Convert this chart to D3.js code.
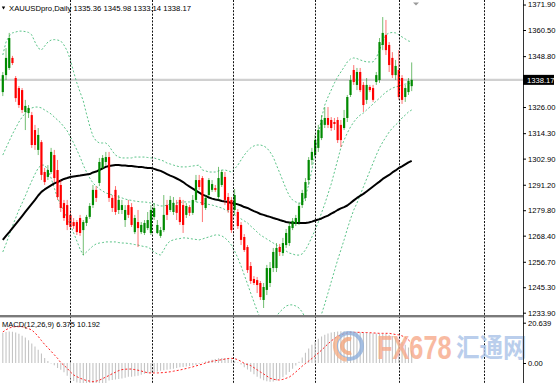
<!DOCTYPE html>
<html><head><meta charset="utf-8">
<script src="https://cdn.jsdelivr.net/npm/d3@7"></script>
<style>html,body{margin:0;padding:0;background:#fff;}svg{display:block;}</style>
</head><body>
<svg id="c" width="557" height="383"></svg>
<script>
const symbol = "XAUUSDpro,Daily";
const lastOHLC = [1335.36, 1345.98, 1333.14, 1338.17];
const macdName = "MACD(12,26,9)";
const macdLast = ["6.375", "10.192"];

const open = [1332.7,1340.3,1343.5,1348.0,1339.0,1334.5,1333.6,1323.8,1323.3,1322.4,
1315.7,1306.8,1310.3,1296.9,1294.7,1296.9,1304.5,1297.8,1291.1,1283.0,
1282.1,1277.7,1274.5,1274.5,1276.3,1270.9,1274.1,1276.8,1282.1,1288.9,
1292.0,1298.7,1301.4,1303.6,1285.3,1288.9,1279.9,1279.9,1275.4,1282.1,
1281.2,1270.0,1274.5,1270.0,1269.6,1271.8,1269.6,1276.8,1269.6,1268.3,
1270.9,1282.1,1279.9,1279.0,1282.1,1284.4,1282.1,1277.7,1281.2,1278.6,
1284.4,1293.3,1294.2,1280.8,1286.6,1288.9,1289.7,1285.7,1291.1,1294.7,
1285.7,1284.4,1279.9,1279.0,1273.2,1267.8,1263.3,1254.8,1249.0,1248.5,
1247.2,1239.6,1244.1,1247.2,1253.9,1253.9,1263.3,1260.6,1264.2,1265.1,
1271.8,1273.6,1274.5,1282.1,1285.3,1293.3,1302.3,1304.5,1307.7,1312.1,
1318.0,1321.1,1320.2,1319.3,1320.2,1318.0,1316.6,1321.1,1331.4,1342.6,
1335.9,1341.7,1335.9,1329.2,1335.0,1334.5,1337.2,1338.1,1353.8,1358.3,
1353.8,1348.0,1340.3,1342.6,1339.0,1330.5,1332.7,1335.36];
const high = [1341.7,1352.4,1359.2,1348.9,1339.9,1335.4,1334.5,1329.2,1326.9,1323.8,
1318.0,1316.6,1311.2,1298.7,1300.0,1307.7,1306.8,1302.3,1293.3,1284.4,
1284.4,1279.9,1276.3,1275.4,1277.7,1275.4,1277.7,1283.0,1291.1,1290.6,
1303.2,1304.5,1305.9,1305.9,1286.6,1290.6,1286.6,1284.4,1282.1,1284.4,
1283.0,1277.7,1279.9,1274.5,1275.4,1279.0,1282.1,1283.0,1275.4,1272.3,
1286.6,1284.4,1286.2,1285.7,1284.4,1285.7,1284.4,1283.0,1282.1,1286.6,
1295.6,1295.6,1295.1,1286.6,1294.2,1293.3,1291.1,1299.2,1297.8,1296.9,
1287.5,1285.7,1289.3,1280.3,1274.5,1269.1,1264.2,1256.6,1250.3,1249.9,
1248.1,1247.2,1255.3,1256.6,1262.9,1265.1,1264.7,1267.4,1271.4,1274.5,
1276.3,1277.7,1283.0,1288.9,1294.2,1303.6,1307.7,1313.5,1318.0,1322.4,
1326.0,1326.0,1321.5,1321.1,1321.5,1320.2,1324.7,1331.4,1340.3,1344.8,
1343.5,1343.5,1337.2,1339.0,1335.9,1335.9,1341.7,1356.9,1366.3,1365.0,
1355.1,1350.6,1347.1,1351.5,1340.3,1335.9,1339.0,1345.98];
const low = [1330.9,1338.1,1342.6,1344.8,1328.3,1325.6,1323.3,1315.7,1321.1,1307.7,
1306.8,1304.5,1293.3,1291.1,1293.3,1296.0,1292.4,1284.4,1279.0,1275.0,
1270.9,1270.9,1271.4,1268.7,1268.3,1259.7,1272.7,1275.9,1280.8,1283.5,
1290.6,1297.8,1299.6,1283.5,1279.0,1277.7,1278.1,1278.1,1272.3,1276.3,
1272.3,1269.1,1263.3,1269.1,1268.7,1270.9,1268.7,1275.4,1269.1,1267.4,
1270.0,1275.4,1279.0,1277.7,1275.4,1273.2,1269.6,1276.3,1277.2,1277.7,
1283.5,1288.9,1274.5,1279.9,1285.7,1288.0,1288.0,1284.4,1290.2,1282.1,
1278.6,1269.6,1277.7,1271.4,1264.2,1261.1,1251.7,1246.8,1246.3,1242.7,
1239.6,1236.0,1241.8,1245.4,1252.1,1252.1,1259.3,1259.3,1262.9,1263.8,
1270.9,1272.7,1273.2,1280.8,1283.9,1291.1,1300.0,1303.2,1305.9,1311.2,
1316.6,1316.6,1315.3,1315.7,1309.9,1308.1,1315.7,1319.3,1330.5,1335.9,
1333.6,1332.7,1323.8,1327.4,1332.7,1328.3,1335.9,1336.8,1351.5,1349.3,
1341.7,1339.0,1338.1,1329.2,1327.4,1328.3,1331.4,1333.14];
const close = [1340.3,1348.0,1356.9,1345.7,1330.0,1326.9,1324.7,1326.5,1325.6,1309.0,
1309.0,1313.5,1295.6,1292.4,1297.8,1305.9,1294.2,1285.7,1280.8,1276.3,
1273.2,1272.3,1272.7,1270.0,1269.6,1274.5,1276.8,1281.7,1288.9,1285.3,
1301.4,1303.2,1303.6,1285.3,1280.8,1279.0,1284.4,1282.1,1279.9,1277.7,
1273.2,1276.3,1271.8,1273.2,1274.1,1275.4,1279.9,1280.8,1273.2,1270.9,
1277.7,1277.7,1284.4,1283.0,1278.6,1274.5,1273.2,1281.7,1278.6,1284.4,
1293.3,1290.2,1282.1,1285.3,1293.3,1291.5,1288.9,1294.2,1296.9,1284.4,
1279.9,1270.9,1286.6,1272.7,1266.5,1262.0,1253.0,1248.1,1247.2,1246.3,
1240.9,1245.4,1253.9,1253.9,1261.1,1262.9,1261.1,1265.1,1269.6,1272.7,
1275.0,1276.3,1281.7,1287.5,1292.4,1302.3,1305.9,1311.2,1315.7,1320.2,
1321.1,1318.0,1316.6,1318.4,1311.2,1311.2,1321.1,1330.5,1338.1,1337.2,
1341.7,1333.6,1326.9,1335.9,1333.6,1329.2,1340.3,1355.1,1359.2,1351.5,
1344.8,1340.3,1344.4,1330.5,1329.2,1334.5,1337.7,1338.17];

const ma = [1266.5,1268.3,1270.0,1271.8,1273.6,1275.4,1277.2,1279.0,1280.8,1282.6,
1284.4,1286.4,1288.0,1289.1,1290.0,1290.9,1291.8,1292.4,1293.1,1293.8,
1294.2,1294.7,1294.9,1295.1,1295.3,1295.6,1295.8,1296.0,1296.7,1297.1,
1297.8,1298.5,1299.2,1299.6,1299.8,1300.0,1300.0,1299.8,1299.8,1299.6,
1299.6,1299.4,1299.2,1299.2,1298.9,1298.7,1298.7,1298.3,1297.8,1297.4,
1296.7,1296.0,1295.3,1294.7,1294.0,1293.3,1292.4,1291.3,1290.4,1289.5,
1288.6,1287.7,1286.8,1286.2,1285.5,1285.0,1284.6,1284.4,1283.9,1283.7,
1283.5,1283.0,1282.8,1282.4,1281.9,1281.2,1280.8,1280.1,1279.4,1278.8,
1278.1,1277.7,1277.2,1276.8,1276.3,1275.9,1275.4,1275.0,1274.5,1274.3,
1274.1,1274.1,1274.1,1274.1,1274.1,1274.3,1274.7,1275.2,1275.6,1276.1,
1276.8,1277.4,1278.3,1279.0,1279.9,1280.6,1281.2,1281.9,1283.0,1284.2,
1285.3,1286.2,1287.1,1288.2,1289.3,1290.4,1291.5,1292.6,1293.8,1294.7,
1295.6,1296.7,1297.6,1298.7,1299.4,1300.3,1301.2,1301.9];

const bbUpper = [1349.3,1355.1,1357.8,1359.2,1359.6,1360.0,1360.0,1359.8,1359.4,1358.3,
1355.1,1352.4,1351.5,1353.3,1355.1,1356.0,1356.2,1356.0,1355.6,1353.8,
1351.1,1347.1,1341.7,1336.8,1332.7,1328.7,1322.9,1317.5,1313.0,1310.8,
1309.9,1309.9,1309.9,1308.6,1306.3,1304.5,1303.6,1303.2,1303.2,1303.2,
1303.2,1303.6,1303.6,1303.6,1303.6,1303.4,1303.2,1303.2,1302.7,1302.3,
1301.8,1300.9,1300.5,1300.0,1299.6,1299.2,1299.2,1299.2,1299.4,1299.6,
1299.8,1300.0,1297.8,1297.4,1296.9,1296.9,1296.9,1297.4,1297.8,1297.8,
1297.4,1296.9,1298.3,1300.0,1302.3,1304.5,1306.3,1307.7,1308.6,1309.0,
1309.0,1308.6,1307.7,1305.9,1303.6,1300.0,1296.5,1292.9,1289.3,1286.2,
1284.4,1283.5,1283.0,1283.0,1286.2,1291.1,1297.8,1305.9,1313.5,1321.1,
1326.9,1330.5,1333.6,1336.8,1339.5,1341.7,1343.9,1346.2,1347.5,1348.0,
1347.7,1347.1,1346.6,1346.2,1346.2,1346.2,1348.0,1351.5,1355.1,1358.3,
1359.2,1359.4,1359.2,1358.3,1357.4,1356.5,1355.6,1355.1];
const bbMiddle = [1304.5,1307.7,1310.8,1313.9,1316.6,1319.3,1321.5,1323.3,1324.7,1325.6,
1326.0,1326.0,1325.6,1324.7,1323.8,1322.9,1321.5,1320.2,1318.9,1317.1,
1315.3,1312.6,1309.9,1306.8,1303.6,1300.0,1296.9,1294.2,1292.0,1290.6,
1289.3,1288.4,1287.5,1287.1,1286.6,1286.2,1285.7,1285.3,1284.8,1284.4,
1284.2,1283.9,1283.7,1283.5,1283.5,1283.3,1283.0,1282.6,1282.1,1281.7,
1281.7,1282.1,1282.6,1283.0,1283.0,1283.3,1283.5,1283.5,1283.5,1283.5,
1283.5,1283.3,1283.0,1282.6,1282.4,1282.1,1281.7,1281.2,1280.8,1280.1,
1279.4,1278.6,1277.7,1276.8,1275.9,1275.0,1274.1,1272.7,1271.4,1270.0,
1268.7,1267.8,1266.9,1266.0,1265.1,1264.2,1263.3,1262.4,1261.5,1260.6,
1260.2,1259.7,1259.7,1260.2,1262.0,1264.7,1267.8,1270.9,1274.5,1278.6,
1282.6,1287.1,1291.5,1296.9,1302.3,1307.7,1311.2,1314.4,1317.1,1319.3,
1321.1,1322.4,1323.3,1324.7,1326.0,1327.4,1328.7,1330.0,1331.4,1332.7,
1333.6,1334.5,1335.0,1335.4,1335.9,1336.3,1336.5,1336.8];
const bbLower = [1261.1,1264.7,1268.7,1272.7,1276.3,1279.9,1283.0,1286.2,1289.7,1292.9,
1296.0,1298.7,1300.0,1300.0,1297.8,1294.2,1289.7,1285.3,1282.1,1279.0,
1276.3,1273.2,1269.6,1266.0,1262.4,1259.7,1261.1,1262.4,1263.8,1264.7,
1265.1,1265.3,1265.6,1265.6,1265.6,1265.6,1265.3,1265.1,1265.1,1264.9,
1264.7,1264.4,1264.2,1263.8,1263.5,1263.3,1262.4,1261.1,1260.2,1259.7,
1262.0,1264.7,1266.0,1266.5,1266.9,1267.1,1267.4,1267.4,1267.1,1266.9,
1266.7,1266.5,1266.9,1267.4,1267.8,1268.3,1268.7,1268.7,1268.3,1267.4,
1266.0,1264.2,1261.5,1258.4,1254.8,1250.8,1246.8,1242.7,1238.7,1234.7,
1231.5,1229.7,1228.8,1229.3,1230.6,1232.4,1234.2,1235.6,1236.9,1237.4,
1237.4,1236.9,1236.0,1234.2,1231.5,1228.4,1227.1,1227.5,1229.7,1233.3,
1237.8,1242.7,1247.7,1252.6,1257.5,1262.0,1266.5,1271.4,1275.9,1279.9,
1283.0,1286.6,1290.2,1293.8,1297.4,1300.9,1304.5,1307.7,1310.3,1312.6,
1314.8,1316.6,1318.0,1319.3,1321.1,1322.4,1323.8,1324.7];

const macdMain = [15.4,15.9,16.1,16.0,15.6,15.0,14.0,13.0,11.7,10.0,
8.4,6.8,4.8,2.6,1.0,-0.3,-1.1,-2.5,-3.4,-4.8,
-6.5,-8.0,-9.2,-10.0,-10.6,-11.2,-11.6,-11.9,-11.8,-11.5,
-11.0,-10.6,-10.2,-9.0,-8.7,-8.5,-8.2,-8.0,-7.5,-7.0,
-7.0,-6.8,-6.5,-6.0,-5.5,-5.3,-5.0,-4.8,-4.4,-4.0,
-3.7,-3.5,-3.2,-3.0,-2.5,-2.2,-2.0,-1.8,-1.6,-1.3,
-1.0,-0.5,0.3,0.8,1.2,1.6,2.0,2.4,2.6,2.6,
2.3,1.8,1.0,0.2,-0.8,-2.2,-3.3,-4.5,-5.8,-7.0,
-8.0,-8.8,-9.4,-9.6,-9.5,-9.0,-8.2,-7.3,-6.0,-4.6,
-3.0,-1.3,0.6,2.8,5.2,7.4,9.3,11.0,12.4,13.6,
14.5,15.1,15.6,15.9,16.1,16.3,16.3,16.3,16.2,16.1,
16.0,15.8,15.6,15.5,15.3,15.2,15.1,15.0,15.0,14.8,
14.4,13.8,13.0,12.0,10.8,9.4,7.9,6.375];
const macdSignal = [15.9,17.0,17.9,18.5,18.6,18.6,18.6,18.2,17.6,16.9,
15.4,13.6,11.5,9.5,7.8,6.0,4.2,2.4,0.2,-1.2,
-2.7,-4.6,-6.1,-7.0,-7.8,-8.4,-9.0,-9.3,-9.6,-9.3,
-8.8,-8.0,-7.2,-6.4,-5.5,-4.7,-3.9,-3.4,-3.2,-3.1,
-3.1,-3.4,-3.7,-4.1,-4.6,-5.0,-5.1,-5.1,-5.1,-5.0,
-4.9,-4.7,-4.5,-4.2,-3.9,-3.6,-3.2,-2.8,-2.4,-2.0,
-1.5,-1.0,-0.6,0.0,0.5,0.9,1.2,1.4,1.7,2.0,
2.3,2.4,2.2,1.7,0.8,-0.2,-0.8,-1.3,-2.4,-3.5,
-4.6,-5.6,-6.7,-7.8,-8.3,-8.6,-8.7,-8.4,-7.8,-7.2,
-6.0,-4.6,-3.1,-1.6,-0.3,1.0,2.3,3.7,5.1,6.6,
8.2,9.8,11.3,12.5,13.6,14.4,15.0,15.4,15.7,15.7,
15.7,15.7,15.6,15.6,15.5,15.4,15.3,15.2,15.2,15.2,
15.2,14.9,14.6,14.4,13.9,13.0,11.8,10.192];

const priceTicks = [1371.90,1360.50,1348.80,1326.00,1314.30,1302.90,1291.20,1279.80,1268.40,1256.70,1245.30,1233.90];
const macdTicks = [20.639, 0, -11.936];
const gridBars = [20.88, 46.26, 71.52, 96.84, 123.09, 149.34];
const watermarkLatin = "FX678";
const watermarkCJK = "汇通网";

// ---------- drawing ----------
const W = 557, H = 383, axisX = 523;
const font = "'Liberation Sans', Arial, sans-serif";
const svg = d3.select("#c");
const n = close.length;
const idx = d3.range(n);
const x = d3.scaleLinear().domain([0, n - 1]).range([2.8, 411.7]);
const y = d3.scaleLinear().domain([1233.9, 1360.5]).range([312.7, 30]);
const ym = d3.scaleLinear().domain([-11.936, 20.639]).range([386.3, 322.7]);

const defs = svg.append("defs");
defs.append("clipPath").attr("id", "cm").append("rect").attr("x", 0).attr("y", 0).attr("width", axisX).attr("height", 315);
defs.append("clipPath").attr("id", "cs").append("rect").attr("x", 0).attr("y", 317.5).attr("width", axisX).attr("height", 70);

svg.append("rect").attr("width", W).attr("height", H).attr("fill", "#fff");

// bid line
const main = svg.append("g").attr("clip-path", "url(#cm)");
main.append("line").attr("x1", 0).attr("x2", axisX).attr("y1", y(lastOHLC[3])).attr("y2", y(lastOHLC[3]))
  .attr("stroke", "#d0d0d0").attr("stroke-width", 2.2);

// vertical grid
svg.append("g").selectAll("line").data(gridBars).join("line")
  .attr("x1", d => Math.round(x(d)) + 0.5).attr("x2", d => Math.round(x(d)) + 0.5)
  .attr("y1", 0).attr("y2", H)
  .attr("stroke", "#111").attr("stroke-width", 1).attr("stroke-dasharray", "2,1.4");

// bollinger bands
const band = arr => d3.line().x((d, i) => x(i)).y(d => y(d))(arr);
[bbUpper, bbMiddle, bbLower].forEach(arr => {
  main.append("path").attr("d", band(arr)).attr("fill", "none")
    .attr("stroke", "#5cc489").attr("stroke-width", 1).attr("stroke-dasharray", "2,2");
});

// moving average
main.append("path").attr("d", band(ma)).attr("fill", "none")
  .attr("stroke", "#000").attr("stroke-width", 2).attr("stroke-linejoin", "round");

// candles
const bull = "#008a00", bear = "#ff0000";
const col = i => close[i] >= open[i] ? bull : bear;
main.append("g").selectAll("line").data(idx).join("line")
  .attr("x1", i => x(i)).attr("x2", i => x(i))
  .attr("y1", i => y(high[i])).attr("y2", i => y(low[i]))
  .attr("stroke", col).attr("stroke-width", 1).attr("opacity", 0.55);
main.append("g").selectAll("rect").data(idx).join("rect")
  .attr("x", i => x(i) - 1.1).attr("width", 2.2)
  .attr("y", i => Math.min(y(open[i]), y(close[i])))
  .attr("height", i => Math.max(1, Math.abs(y(open[i]) - y(close[i]))))
  .attr("fill", col);

// separator
svg.append("rect").attr("x", 0).attr("y", 315).attr("width", axisX).attr("height", 2.4).attr("fill", "#7a7a7a");

// MACD panel
const sub = svg.append("g").attr("clip-path", "url(#cs)");
sub.append("g").selectAll("line").data(idx).join("line")
  .attr("x1", i => x(i)).attr("x2", i => x(i))
  .attr("y1", ym(0)).attr("y2", i => ym(macdMain[i]))
  .attr("stroke", "#c4c4c4").attr("stroke-width", 1.1);
sub.append("path").attr("d", d3.line().x((d, i) => x(i)).y(d => ym(d))(macdSignal))
  .attr("fill", "none").attr("stroke", "#ff2020").attr("stroke-width", 1).attr("stroke-dasharray", "2,2");

// watermark
const wm = svg.append("g").attr("opacity", 0.8);
wm.append("circle").attr("cx", 349).attr("cy", 346).attr("r", 13).attr("fill", "none")
  .attr("stroke", "#8fb0dc").attr("stroke-width", 4);
wm.append("path").attr("d", d3.arc()({innerRadius: 5, outerRadius: 9, startAngle: Math.PI * 0.9, endAngle: Math.PI * 2.1}))
  .attr("transform", "translate(349,346)").attr("fill", "#f3a67c");
wm.append("path").attr("d", d3.arc()({innerRadius: 12, outerRadius: 16, startAngle: Math.PI * 1.05, endAngle: Math.PI * 1.75}))
  .attr("transform", "translate(349,346)").attr("fill", "#f6b089");
wm.append("text").attr("transform", "translate(377,358.5) scale(0.745,1)").text(watermarkLatin)
  .attr("font-family", font).attr("font-weight", "bold").attr("font-size", 34)
  .attr("fill", "#f7a98a");
wm.append("text").attr("transform", "translate(456,357) scale(0.96,1.08)").text(watermarkCJK)
  .attr("font-family", "'Noto Sans CJK SC', sans-serif").attr("font-weight", "bold").attr("font-size", 24.5)
  .attr("fill", "#a9c3e8");

// right axis
svg.append("line").attr("x1", axisX + 0.5).attr("x2", axisX + 0.5).attr("y1", 0).attr("y2", H)
  .attr("stroke", "#333").attr("stroke-width", 1);
const ax = svg.append("g").attr("transform", `translate(${axisX},0)`)
  .call(d3.axisRight(y).tickValues(priceTicks).tickSize(3).tickPadding(2).tickFormat(d3.format(".2f")));
ax.select(".domain").remove();
ax.selectAll("text").attr("font-family", font).attr("font-size", 7.6).attr("fill", "#000");
ax.selectAll("line").attr("stroke", "#000");
const axm = svg.append("g").attr("transform", `translate(${axisX},0)`)
  .call(d3.axisRight(ym).tickValues(macdTicks).tickSize(3).tickPadding(2)
    .tickFormat(d => d === 0 ? "0.00" : String(d)));
axm.select(".domain").remove();
axm.selectAll("text").attr("font-family", font).attr("font-size", 7.6).attr("fill", "#000");
axm.selectAll("line").attr("stroke", "#000");

// last price box
const yl = y(lastOHLC[3]);
svg.append("rect").attr("x", axisX).attr("y", yl - 5).attr("width", 31).attr("height", 10).attr("fill", "#000");
svg.append("text").attr("x", axisX + 4).attr("y", yl + 2.8).text(lastOHLC[3].toFixed(2))
  .attr("font-family", font).attr("font-size", 7.6).attr("fill", "#fff");

// title
svg.append("path").attr("d", "M1.8,6.6 L5.2,6.6 L3.5,9.4 Z").attr("fill", "#000");
svg.append("text").attr("x", 9).attr("y", 10.5)
  .text(symbol + " " + lastOHLC.map(v => v.toFixed(2)).join(" "))
  .attr("font-family", font).attr("font-size", 7.7).attr("fill", "#000");
// chart shift marker
svg.append("path").attr("d", "M413,2.6 L419,2.6 L416,5.6 Z").attr("fill", "#9a9a9a");

// MACD label
svg.append("text").attr("x", 2).attr("y", 327)
  .text(macdName + " " + macdLast.join(" "))
  .attr("font-family", font).attr("font-size", 7.5).attr("fill", "#000");
</script>
</body></html>
